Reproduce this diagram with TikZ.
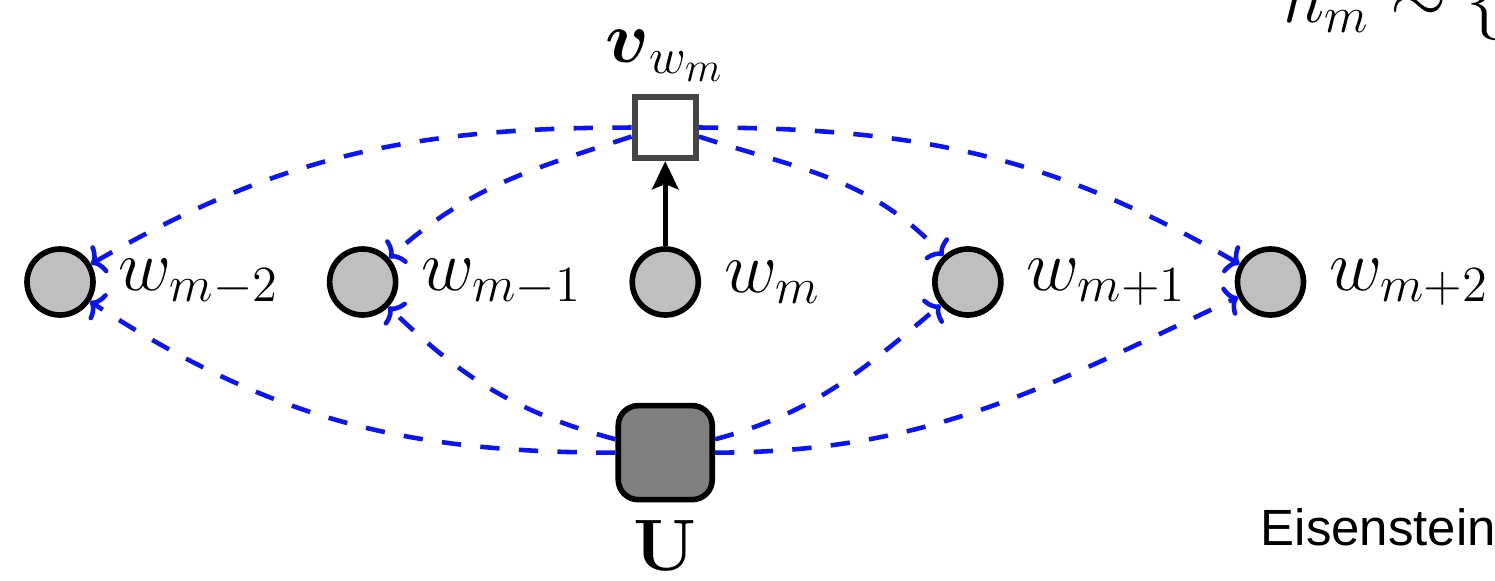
\documentclass[tikz,border=0pt]{standalone}
\usepackage{amsmath,amssymb}
\usepackage[no-math]{fontspec}
\usetikzlibrary{positioning,arrows.meta}
\newfontfamily\slidefont{Liberation Sans}
\definecolor{msgblue}{HTML}{0A14F5}
\definecolor{boxgray}{HTML}{454545}

\begin{document}
\begin{tikzpicture}[node distance=8.5mm and 23.1mm,
  wnode/.style={draw,circle,fill=gray!50,line width=1.6pt,minimum size=6.6mm,inner sep=0pt},
  wlabel/.style={font=\huge},
  vbox/.style={draw=boxgray,fill=white,line width=1.8pt,minimum size=6.1mm,inner sep=0pt},
  ubox/.style={draw,fill=gray,rounded corners=2mm,line width=1.6pt,minimum size=9.4mm,inner sep=0pt},
  msg/.style={-{To[length=3.4pt,width=9pt]},msgblue,line width=1.3pt,dash pattern=on 5.5pt off 5.5pt}]
\clip (0,0) rectangle (14.95,-5.8);
\node[wnode] (wm2) at (0.6,-2.82) {}; \node[wnode,right=of wm2] (wm1) {}; \node[wnode,right=of wm1] (wm) {};
\node[wnode,right=of wm] (wp1) {}; \node[wnode,right=of wp1] (wp2) {};
\node[wlabel,right=3pt of wm2] (lwm2) {$w_{m-2}$}; \node[wlabel,right=3pt of wm1] (lwm1) {$w_{m-1}$};
\node[wlabel,right=3pt of wm] (lwm) {$w_m$}; \node[wlabel,right=3pt of wp1] (lwp1) {$w_{m+1}$};
\node[wlabel,right=3pt of wp2] (lwp2) {$w_{m+2}$};
\node[vbox,above=of wm] (v) {}; \node[wlabel,above=0pt of v] (lv) {$\boldsymbol{v}_{w_m}$};
\node[ubox,below=of wm] (u) {}; \node[wlabel,inner sep=1pt,below=4pt of u] (lu) {$\mathbf{U}$};
\node[font=\huge,anchor=base west,inner sep=0pt] (prior) at (12.83,-0.22) {$h_m \sim \{0$};
\node[font=\slidefont\fontsize{14.5}{17}\selectfont,anchor=base west,inner sep=0pt] (cite) at (12.6,-5.45) {Eisenstein};
\draw[-{Stealth[length=8pt,width=7.5pt,inset=1.5pt]},line width=1.4pt] (wm)--(v);
\draw[msg] (v.west) to[out=180,in=30] (wm2.30); \draw[msg] (v.195) to[out=198,in=42] (wm1.42);
\draw[msg] (v.-15) to[out=-18,in=133] (wp1.133); \draw[msg] (v.east) to[out=0,in=150] (wp2.150);
\draw[msg] (u.west) to[out=180,in=-33] (wm2.-33); \draw[msg] (u.165) to[out=165,in=-44] (wm1.-44);
\draw[msg] (u.15) to[out=15,in=-140] (wp1.-140); \draw[msg] (u.east) to[out=0,in=-155] (wp2.-155);
\end{tikzpicture}
\end{document}
